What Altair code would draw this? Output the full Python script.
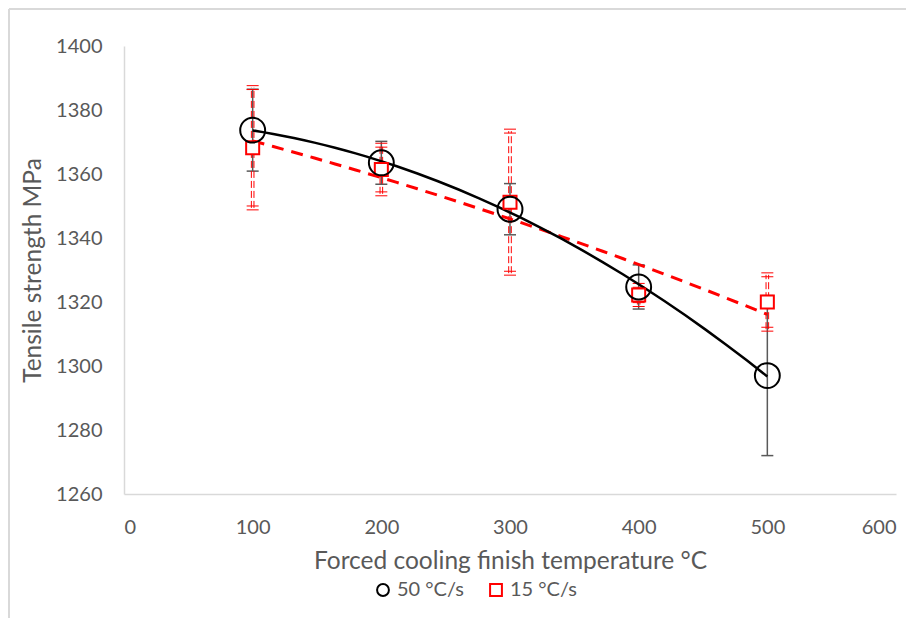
import altair as alt
import pandas as pd

temps = [100, 200, 300, 400, 500]
series_names = ["50 °C/s", "15 °C/s"]
ts_50 = [1373.7, 1363.5, 1349.0, 1324.7, 1297.0]
err_50 = [12.8, 6.7, 8.0, 6.9, 25.0]
ts_15 = [1368.2, 1361.4, 1351.2, 1322.2, 1320.0]
err_15 = [18.8, 7.6, 22.2, 3.0, 8.5]

rows = []
for name, vals, errs in [(series_names[0], ts_50, err_50), (series_names[1], ts_15, err_15)]:
    for t, v, e in zip(temps, vals, errs):
        rows.append({"temp": t, "ts": v, "lo": v - e, "hi": v + e, "series": name})
df = pd.DataFrame(rows)
d50 = df[df.series == series_names[0]]
d15 = df[df.series == series_names[1]]

FONT = "Lato"
GREY = "#595959"
GRID = "#d9d9d9"
W, H = 772, 448

xs = alt.Scale(domain=[0, 600])
ys = alt.Scale(domain=[1260, 1400])
X = alt.X("temp:Q", scale=xs, title="Forced cooling finish temperature °C",
          axis=alt.Axis(values=[0, 100, 200, 300, 400, 500, 600], format="d"))
Y = alt.Y("ts:Q", scale=ys, title="Tensile strength MPa",
          axis=alt.Axis(values=[1260, 1280, 1300, 1320, 1340, 1360, 1380, 1400], format="d"))
color = alt.Color("series:N", scale=alt.Scale(domain=series_names, range=["#000000", "#ff0000"]),
                  legend=alt.Legend(title=None))
shape = alt.Shape("series:N", scale=alt.Scale(domain=series_names, range=["circle", "square"]),
                  legend=alt.Legend(title=None))

# trend lines
trend50 = alt.Chart(d50).transform_regression(
    "temp", "ts", method="poly", order=2, extent=[100, 500]
).mark_line(color="#000000", strokeWidth=2.5).encode(x=X, y=Y)
trend15 = alt.Chart(d15).transform_regression(
    "temp", "ts", method="poly", order=2, extent=[100, 500]
).mark_line(color="#ff0000", strokeWidth=3, strokeDash=[12, 8]).encode(x=X, y=Y)

# error bars black
eb50 = alt.Chart(d50).mark_rule(color=GREY, strokeWidth=1.5).encode(
    x="temp:Q", y=alt.Y("lo:Q", scale=ys), y2="hi:Q")
cap50_hi = alt.Chart(d50).mark_rule(color=GREY, strokeWidth=1.5, xOffset=-6, x2Offset=6).encode(
    x="temp:Q", x2="temp:Q", y=alt.Y("hi:Q", scale=ys))
cap50_lo = alt.Chart(d50).mark_rule(color=GREY, strokeWidth=1.5, xOffset=-6, x2Offset=6).encode(
    x="temp:Q", x2="temp:Q", y=alt.Y("lo:Q", scale=ys))

# error bars red (double dashed lines)
red_layers = []
for off in (-1.3, 1.3):
    red_layers.append(alt.Chart(d15).mark_rule(color="#ff0000", strokeWidth=1, strokeDash=[7, 3],
                                               xOffset=off, x2Offset=off).encode(
        x="temp:Q", y=alt.Y("lo:Q", scale=ys), y2="hi:Q"))
    for fld in ("hi", "lo"):
        red_layers.append(alt.Chart(d15).mark_rule(color="#ff0000", strokeWidth=1, xOffset=-6,
                                                   x2Offset=6, yOffset=off * 1.5,
                                                   y2Offset=off * 1.5).encode(
            x="temp:Q", x2="temp:Q", y=alt.Y(f"{fld}:Q", scale=ys)))

pts50 = alt.Chart(d50).mark_point(filled=False, strokeWidth=2, size=620, opacity=1).encode(
    x=X, y=Y, color=color, shape=shape)
pts15 = alt.Chart(d15).mark_point(filled=False, fill="white", fillOpacity=1, strokeWidth=2,
                                  size=170, opacity=1).encode(
    x=X, y=Y, color=color, shape=shape)

# outer frame (left and top edges of the picture), in pixel units of the plot
frame_df = pd.DataFrame({"x0": [-115], "x1": [800], "y0": [-37], "y1": [640]})
px_x = alt.Scale(domain=[0, W], nice=False, zero=False)
px_y = alt.Scale(domain=[H, 0], nice=False, zero=False)
frame_left = alt.Chart(frame_df).mark_rule(color=GRID, strokeWidth=2, clip=False).encode(
    x=alt.X("x0:Q", scale=px_x, axis=None),
    y=alt.Y("y0:Q", scale=px_y, axis=None),
    y2="y1:Q")
frame_top = alt.Chart(frame_df).mark_rule(color=GRID, strokeWidth=2, clip=False).encode(
    x=alt.X("x0:Q", scale=px_x, axis=None),
    x2="x1:Q",
    y=alt.Y("y0:Q", scale=px_y, axis=None))
frame = alt.layer(frame_left, frame_top)

main = alt.layer(
    eb50, cap50_hi, cap50_lo, *red_layers,
    trend15, trend50, pts15, pts50
)

chart = alt.layer(frame, main).resolve_scale(x="independent", y="independent").properties(
    width=W, height=H,
    autosize=alt.AutoSizeParams(type="none"),
    padding={"left": 116, "top": 38, "right": 10, "bottom": 124},
    background="white",
).configure_view(stroke=None).configure_axis(
    grid=True, gridColor=GRID, gridWidth=1.5, domainColor=GRID, domainWidth=1.5,
    ticks=False, labelFont=FONT, labelFontSize=20, labelColor=GREY,
    titleFont=FONT, titleColor=GREY, titleFontWeight="normal",
).configure_axisX(
    labelPadding=23, titleFontSize=24.5, titlePadding=12,
).configure_axisY(
    labelPadding=22, titleFontSize=24.5, titlePadding=10,
).configure_legend(
    orient="none", legendX=249, legendY=534, direction="horizontal",
    labelFont=FONT, labelFontSize=20, labelColor=GREY, symbolSize=140,
    symbolStrokeWidth=2, columnPadding=22, labelOffset=4,
)

chart.save("out.html", embed_options={"renderer": "svg", "actions": False})
